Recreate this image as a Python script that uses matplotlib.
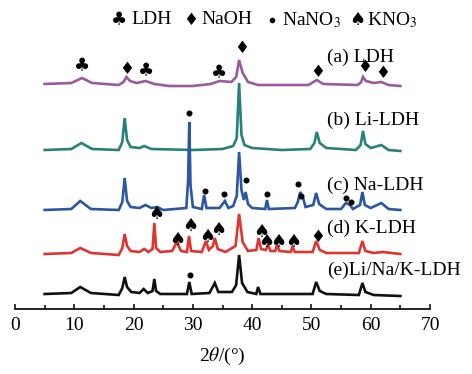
import matplotlib
matplotlib.use("Agg")
import matplotlib.pyplot as plt
from matplotlib.ticker import MultipleLocator

plt.rcParams["font.family"] = ["Liberation Serif", "DejaVu Sans"]
plt.rcParams["mathtext.fontset"] = "stix"

# vertical offsets of each pattern (px above the x axis line)
offsets = [224, 159, 99, 55, 14]
labels = ["(a) LDH", "(b) Li-LDH", "(c) Na-LDH", "(d) K-LDH", "(e)Li/Na/K-LDH"]
label_y = [252, 189, 124, 81, 39]
line_colors = ["#9b5a9b", "#27807a", "#2a56a2", "#e03431", "#111111"]

# pattern vertices: 2theta, intensity above own baseline
a_x = [5, 9.5, 11.3, 13, 17.5, 18.3, 18.8, 19.4, 20.5, 22.0, 23.5, 26, 30, 33, 34.5, 36.5, 37.3, 37.8, 38.4,
       39.3, 41, 49.5, 50.9, 52, 57.8, 58.4, 58.7, 59.2, 60.5, 61.8, 63, 65]
a_y = [1, 2, 7, 2, 0, 3, 8, 4, 2, 4, 1, -1, -1, 1, 4, 3, 8, 25, 12,
       3, 0, 0, 5, 1, 0, 3, 8, 4, 2, 3, 0, -1]

b_x = [5, 9.5, 11.2, 13, 17.5, 18.1, 18.5, 18.9, 19.5, 21, 21.8, 23, 30, 35, 36.8, 37.4, 37.8, 38.2, 38.7,
       40, 45, 49.8, 50.5, 50.9, 51.4, 52.5, 57.5, 58.3, 58.7, 59.1, 60, 61.8, 63, 65]
b_y = [0, 1, 7, 1, 0, 8, 32, 10, 3, 2, 4, 1, 0, 1, 4, 12, 67, 15, 5,
       2, 0, 1, 7, 18, 7, 2, 0, 5, 19, 6, 2, 5, 0, -1]

c_x = [5, 9.5, 11, 12.8, 17.5, 18.1, 18.5, 18.9, 19.5, 21, 22, 23, 24, 25, 28.9, 29.2, 29.4, 29.6, 30,
       31.5, 31.9, 32.3, 34.5, 35.4, 36, 36.8, 37.4, 37.8, 38.2, 38.6, 38.9, 39.3, 40, 42.2, 42.5, 42.8,
       47.2, 47.7, 48.1, 48.5, 49, 50.3, 50.8, 51.3, 52.5, 55, 55.8, 56.5, 57, 58.2, 58.6, 59.0, 60,
       61.8, 63, 65]
c_y = [0, 1, 9, 1, 0, 8, 32, 9, 3, 2, 5, 2, 3, 0, 2, 30, 88, 25, 3,
       1, 15, 2, 2, 9, 2, 4, 14, 58, 20, 10, 18, 6, 2, 1, 10, 1,
       2, 8, 18, 14, 3, 5, 17, 6, 1, 1, 7, 5, 1, 5, 18, 5, 2,
       7, 1, 0]

d_x = [5, 9.5, 11, 12.8, 17.5, 18.1, 18.5, 18.9, 19.5, 21, 21.8, 22.5, 23.2, 23.5, 23.8, 24.5, 26.5, 27.3,
       28, 29.0, 29.35, 29.7, 31.5, 32.2, 32.7, 33.4, 33.7, 34.2, 35.5, 37.2, 37.8, 38.4, 39.3, 40.7,
       41.1, 41.5, 42.3, 42.7, 43.1, 43.9, 44.2, 44.6, 46.5, 46.8, 47.2, 50.2, 50.8, 51.4, 52.5, 58.0,
       58.6, 59.1, 60.5, 62, 65]
d_y = [0, 1, 6, 1, -1, 6, 20, 8, 3, 2, 5, 2, 5, 31, 6, 2, 3, 12,
       3, 2, 18, 3, 2, 13, 4, 8, 16, 5, 2, 8, 40, 12, 3, 4,
       16, 5, 4, 9, 3, 3, 9, 3, 2, 7, 2, 2, 13, 4, 1, 1,
       13, 3, 1, 2, 0]

e_x = [5, 9.5, 11, 12.8, 17.5, 18.1, 18.5, 18.9, 19.6, 21, 21.7, 22.4, 23.2, 23.5, 23.8, 24.5, 29.0, 29.4,
       29.8, 32.8, 33.7, 34.3, 36.6, 37.3, 37.8, 38.3, 39.2, 40.7, 41.0, 41.4, 50.2, 50.8, 51.4, 52.5,
       58.0, 58.6, 59.1, 60.5, 65]
e_y = [1, 2, 8, 2, 0, 7, 18, 8, 3, 2, 6, 2, 4, 16, 4, 1, 1, 13,
       1, 2, 12, 3, 3, 10, 40, 12, 3, 1, 8, 1, 1, 13, 4, 1,
       0, 12, 3, 0, -1]

patterns = [(a_x, a_y), (b_x, b_y), (c_x, c_y), (d_x, d_y), (e_x, e_y)]

# phase markers (2theta, height above axis line)
ldh_x = [11.3, 22.1, 34.4]
ldh_y = [243, 238, 236]
naoh_x = [18.9, 38.2, 51.0, 59.0, 62.0, 51.1]
naoh_y = [240, 261, 237, 242, 236, 72]
nano3_x = [29.4, 32.0, 35.3, 39.0, 42.5, 47.8, 48.3, 55.8, 56.6, 29.5]
nano3_y = [196, 118, 115, 129, 115, 125, 113, 111, 107, 34]
kno3_x = [23.8, 27.4, 29.6, 32.5, 34.2, 41.5, 42.3, 44.4, 46.9]
kno3_y = [95, 69, 83, 72, 79, 77, 67, 67, 67]

fig = plt.figure(figsize=(4.72, 3.74), dpi=100)
ax = fig.add_axes([15 / 472, 65 / 374, 415 / 472, 309 / 374])

for (xs, ys), off, c in zip(patterns, offsets, line_colors):
    ax.plot(xs, [v + off for v in ys], color=c, lw=1.9, solid_joinstyle="miter")

for lab, ly in zip(labels, label_y):
    ax.text(52.6, ly, lab, fontsize=14, ha="left", va="center")

sym_font = dict(family=["DejaVu Sans"], ha="center", va="center", color="black")
for x, y in zip(ldh_x, ldh_y):
    ax.text(x, y, "\u2663", fontsize=13, **sym_font)
for x, y in zip(naoh_x, naoh_y):
    ax.text(x, y, "\u2666", fontsize=12, **sym_font)
for x, y in zip(kno3_x, kno3_y):
    ax.text(x, y, "\u2660", fontsize=13, **sym_font)
ax.scatter(nano3_x, nano3_y, s=11, color="black", zorder=5)

# legend row along the top
ax.text(17.5, 289, "\u2663", fontsize=13, **sym_font)
ax.text(19.6, 289, "LDH", fontsize=14, va="center")
ax.text(29.7, 289, "\u2666", fontsize=12, **sym_font)
ax.text(31.4, 289, "NaOH", fontsize=14, va="center")
ax.scatter([43.3], [289], s=9, color="black")
ax.text(45.1, 289, "NaNO$_3$", fontsize=14, va="center")
ax.text(57.7, 289, "\u2660", fontsize=13, **sym_font)
ax.text(59.4, 289, "KNO$_3$", fontsize=14, va="center")

ax.set_xlim(0, 70)
ax.set_ylim(0, 309)
for s in ["left", "right", "top"]:
    ax.spines[s].set_visible(False)
ax.spines["bottom"].set_linewidth(1.2)
ax.set_yticks([])
ax.xaxis.set_major_locator(MultipleLocator(10))
ax.xaxis.set_minor_locator(MultipleLocator(5))
ax.tick_params(axis="x", direction="in", length=3.5, width=1.1, labelsize=14, pad=6)
ax.tick_params(axis="x", which="minor", direction="in", length=3, width=1.1)
ax.set_xlabel(r"2$\theta$/(°)", fontsize=14, labelpad=8)
ax.patch.set_alpha(0)

fig.savefig("out.png", dpi=100)
